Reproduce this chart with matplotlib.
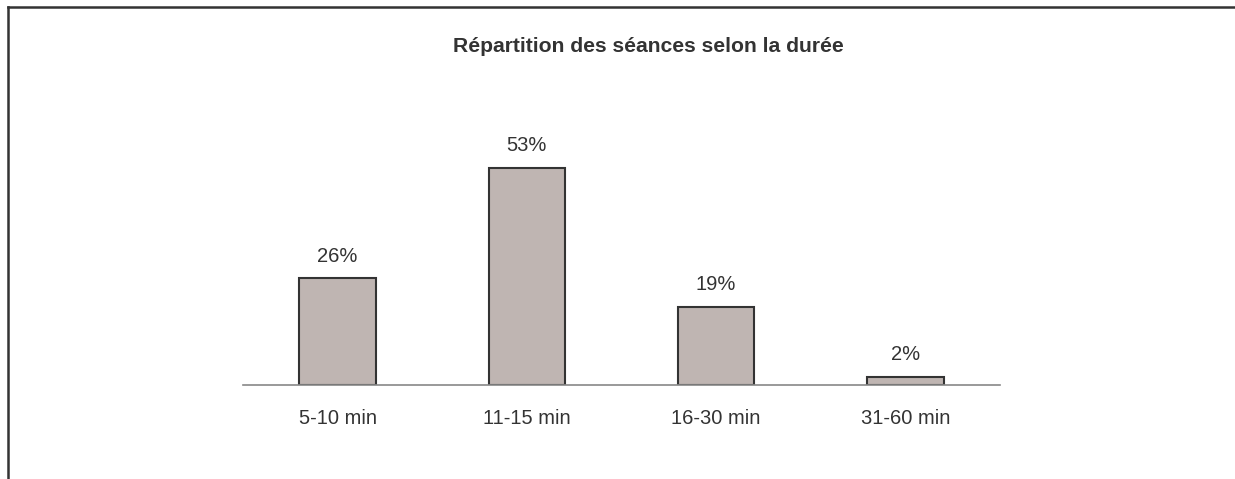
import matplotlib.pyplot as plt
from matplotlib.lines import Line2D

plt.rcParams['font.family'] = ['Liberation Sans', 'DejaVu Sans']

# data
categories = ['5-10 min', '11-15 min', '16-30 min', '31-60 min']
values = [26, 53, 19, 2]
labels = ['26%', '53%', '19%', '2%']

TEXT = '#333333'

fig = plt.figure(figsize=(12.35, 4.79), dpi=100)
ax = fig.add_axes([243 / 1235, (479 - 385) / 479, 757 / 1235, 285 / 479])

x = range(len(categories))
bars = ax.bar(x, values, width=0.405, color='#bfb5b2', edgecolor='#333333', linewidth=1.5, zorder=2)

for b, lab in zip(bars, labels):
    ax.annotate(lab, (b.get_x() + b.get_width() / 2, b.get_height()),
                xytext=(0, 16), textcoords='offset points',
                ha='center', va='center', fontsize=14.5, color=TEXT)

ax.set_xlim(-0.5, 3.5)
ax.set_ylim(0, 69.5)
ax.set_xticks(list(x))
ax.set_xticklabels(categories, fontsize=14.5, color=TEXT)
ax.tick_params(axis='x', length=0, pad=17)
ax.set_yticks([])
for s in ['top', 'right', 'left']:
    ax.spines[s].set_visible(False)
ax.spines['bottom'].set_color('#888888')
ax.spines['bottom'].set_linewidth(1.2)
ax.spines['bottom'].set_zorder(3)

fig.text(648 / 1235, 1 - 46 / 479, 'Répartition des séances selon la durée',
         ha='center', va='center', fontsize=15.2, fontweight='bold', color=TEXT)

# frame on top and left only
fig.add_artist(Line2D([7.5 / 1235, 1], [1 - 7 / 479, 1 - 7 / 479], transform=fig.transFigure,
                      color='#333333', linewidth=1.8))
fig.add_artist(Line2D([7.5 / 1235, 7.5 / 1235], [0, 1 - 7 / 479], transform=fig.transFigure,
                      color='#333333', linewidth=1.8))

fig.savefig('out.png', dpi=100)
